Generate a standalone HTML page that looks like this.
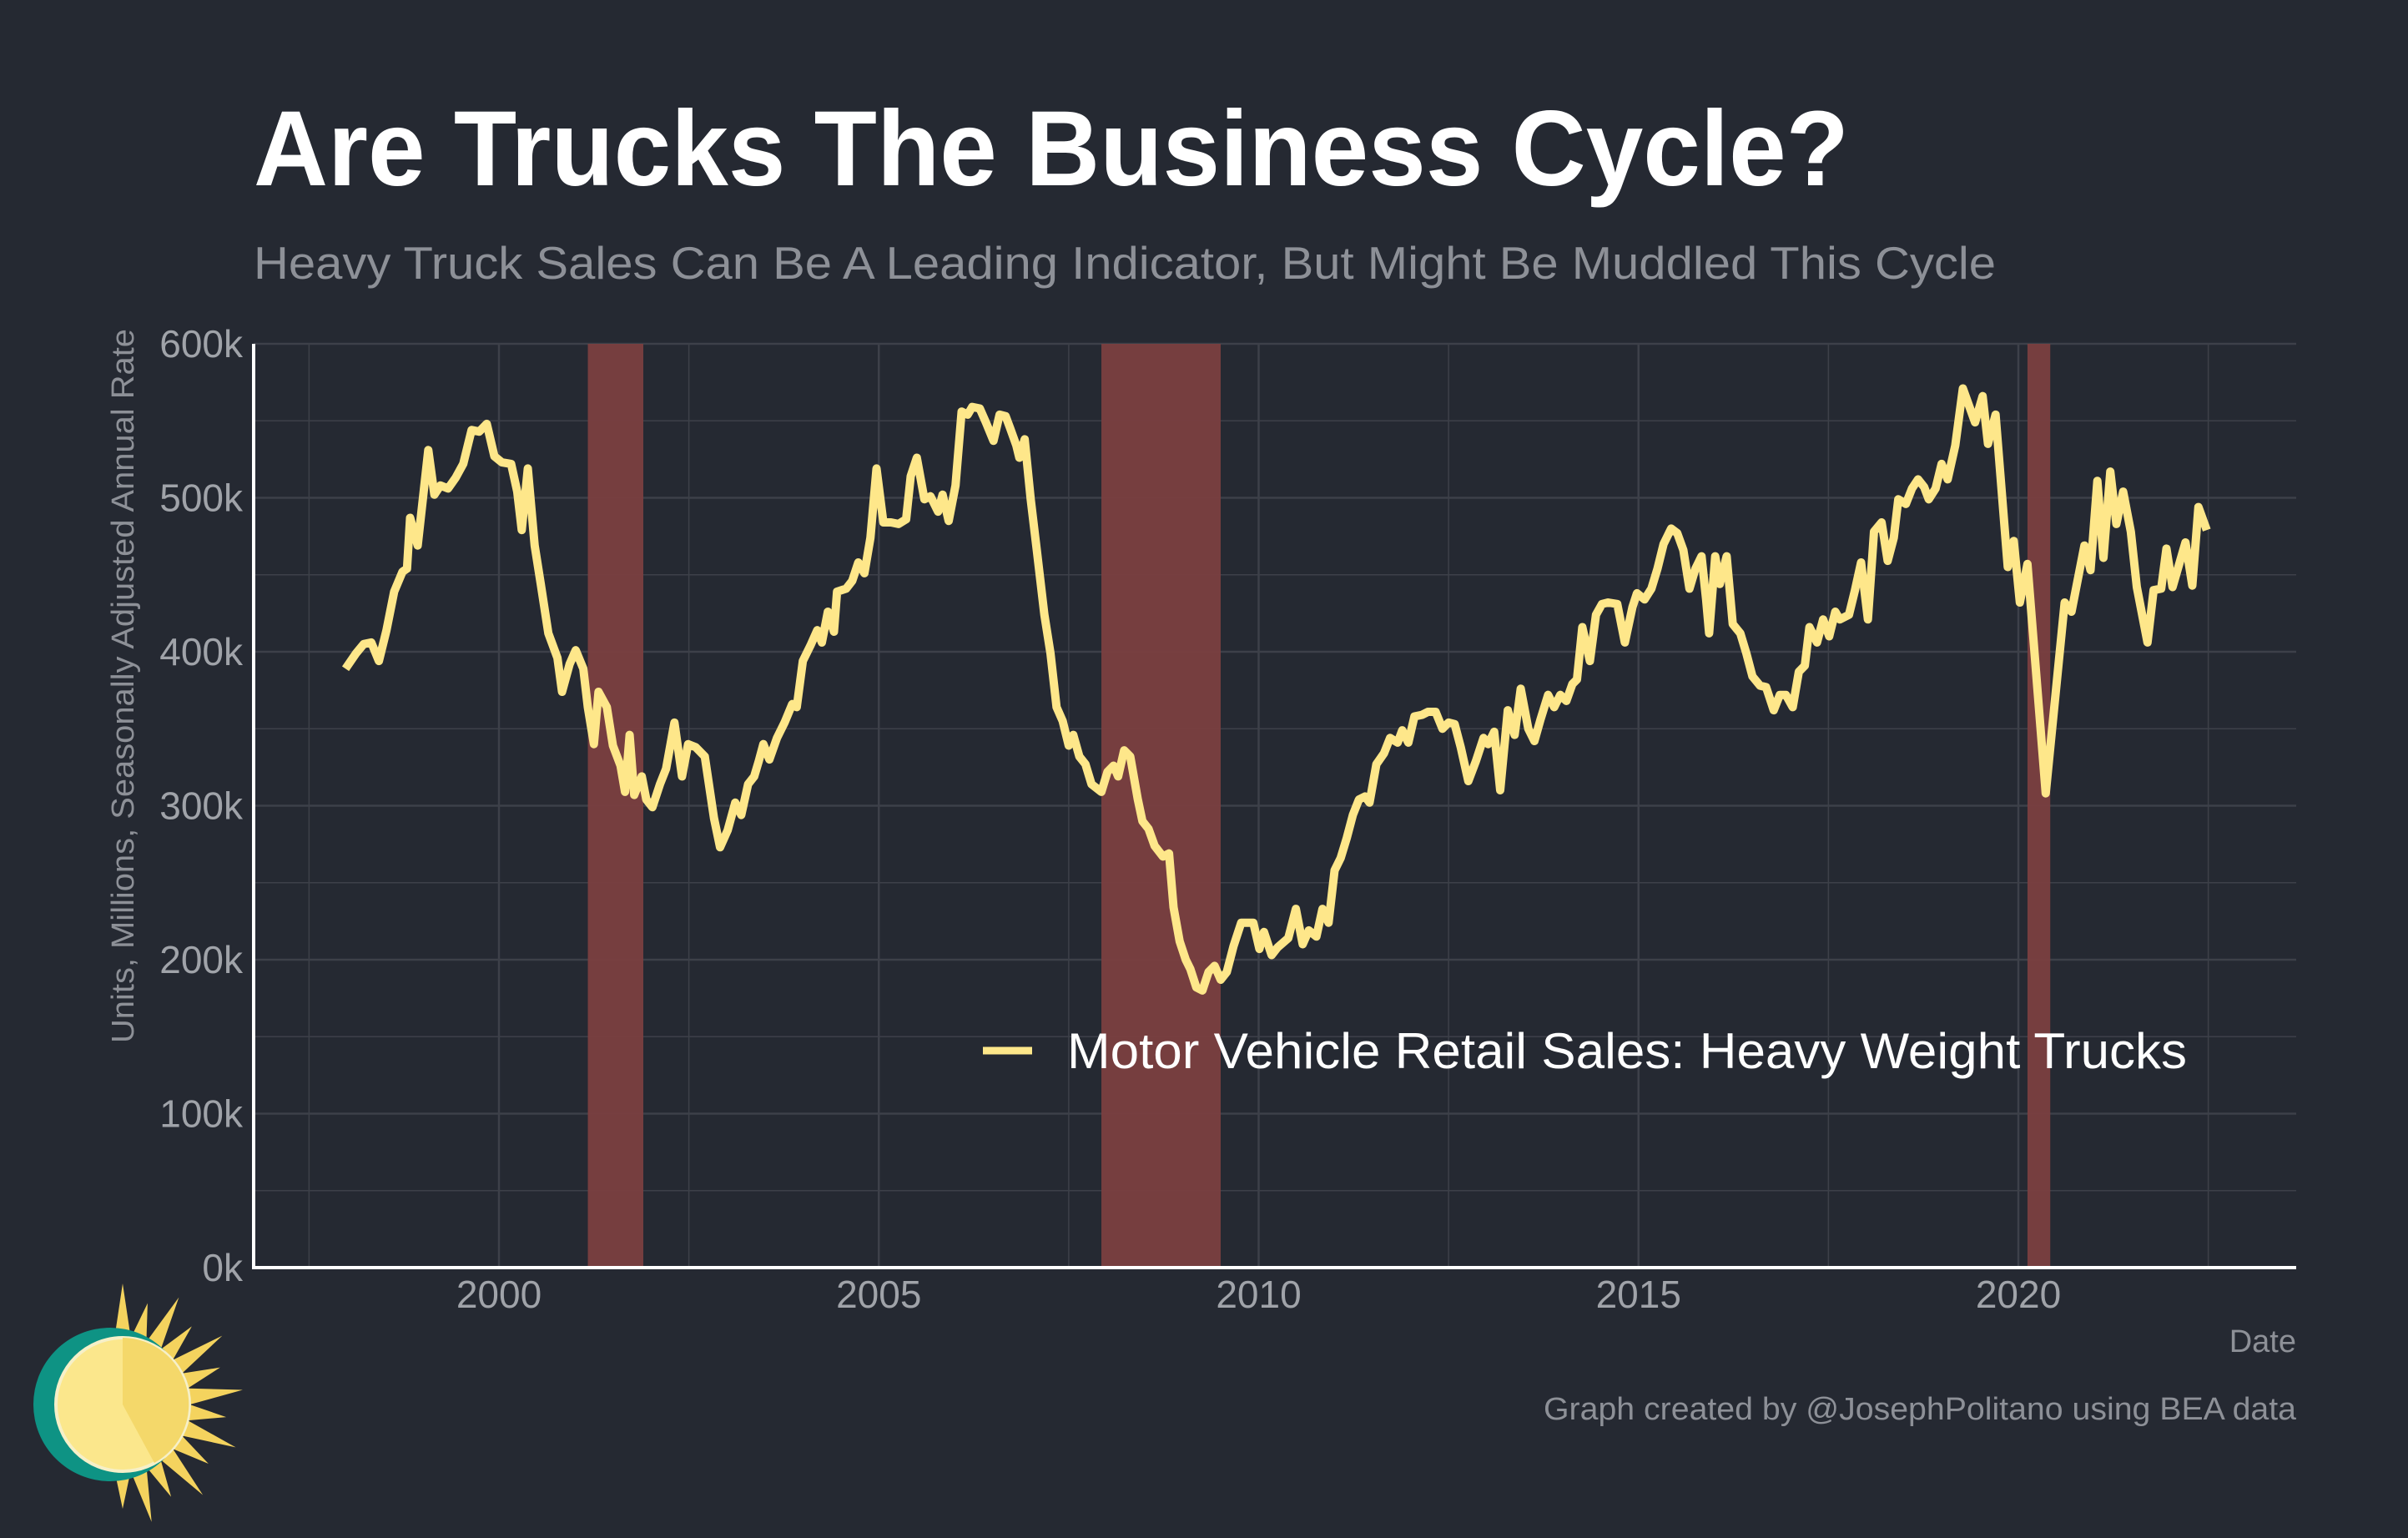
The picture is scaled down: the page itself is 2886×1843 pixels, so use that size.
<!DOCTYPE html>
<html><head><meta charset="utf-8"><style>
html,body{margin:0;padding:0;background:#252932;}
svg{display:block;font-family:"Liberation Sans",Arial,sans-serif;}
</style></head><body>
<svg id="chart" width="2886" height="1843" viewBox="0 0 2886 1843" xmlns="http://www.w3.org/2000/svg">
<rect x="0" y="0" width="2886" height="1843" fill="#252932"/>
<text x="304" y="222" font-size="128" font-weight="bold" fill="#ffffff" textLength="1912" lengthAdjust="spacingAndGlyphs">Are Trucks The Business Cycle?</text>
<text x="304" y="334" font-size="55" fill="#8d9097" textLength="2088" lengthAdjust="spacingAndGlyphs">Heavy Truck Sales Can Be A Leading Indicator, But Might Be Muddled This Cycle</text>
<g id="grid"></g>
<g id="rec"></g>
<g id="axes"></g>
<path id="line" fill="none" stroke="#fee78a" stroke-width="10" stroke-linejoin="round"/>
<g>
<line x1="1178" y1="1259" x2="1237" y2="1259" stroke="#fee78a" stroke-width="9"/>
<text x="1279" y="1280" font-size="60" fill="#ffffff" textLength="1342" lengthAdjust="spacingAndGlyphs">Motor Vehicle Retail Sales: Heavy Weight Trucks</text>
</g>
<text x="0" y="0" transform="translate(160,822) rotate(-90)" text-anchor="middle" font-size="38" fill="#8d9097" textLength="856" lengthAdjust="spacingAndGlyphs">Units, Millions, Seasonally Adjusted Annual Rate</text>
<text x="2752" y="1620" text-anchor="end" font-size="38" fill="#8d9097">Date</text>
<text x="2752" y="1701" text-anchor="end" font-size="38" fill="#8d9097" textLength="902" lengthAdjust="spacingAndGlyphs">Graph created by @JosephPolitano using BEA data</text>
<g transform="translate(-18,0)">
<g id="rays" fill="#f4d35e"></g>
<circle cx="150" cy="1683" r="92" fill="#0e9384"/>
<circle cx="165" cy="1683" r="80" fill="#fbe78c" stroke="#f6f0c8" stroke-width="4"/>
<path d="M165 1683 L165 1603 A80 80 0 0 1 203 1753 Z" fill="#f4d86a"/>
</g>
</svg>
<script>
const years=[1997.98,1998.12,1998.22,1998.32,1998.42,1998.52,1998.62,1998.73,1998.79,1998.83,1998.93,1999.07,1999.15,1999.23,1999.33,1999.43,1999.53,1999.64,1999.74,1999.84,1999.94,2000.04,2000.16,2000.24,2000.30,2000.38,2000.47,2000.55,2000.65,2000.77,2000.83,2000.93,2001.01,2001.11,2001.17,2001.25,2001.31,2001.42,2001.50,2001.60,2001.66,2001.72,2001.78,2001.88,2001.94,2002.02,2002.12,2002.20,2002.31,2002.41,2002.49,2002.59,2002.71,2002.83,2002.91,2003.01,2003.11,2003.19,2003.28,2003.36,2003.42,2003.48,2003.56,2003.66,2003.76,2003.86,2003.92,2004.00,2004.10,2004.19,2004.25,2004.33,2004.41,2004.45,2004.57,2004.65,2004.73,2004.81,2004.89,2004.97,2005.06,2005.16,2005.26,2005.36,2005.42,2005.50,2005.60,2005.68,2005.78,2005.84,2005.92,2006.01,2006.09,2006.17,2006.23,2006.33,2006.41,2006.51,2006.59,2006.67,2006.73,2006.81,2006.85,2006.92,2007.00,2007.08,2007.18,2007.26,2007.34,2007.42,2007.50,2007.56,2007.64,2007.72,2007.80,2007.93,2008.01,2008.09,2008.15,2008.23,2008.31,2008.41,2008.47,2008.55,2008.63,2008.74,2008.82,2008.88,2008.96,2009.04,2009.10,2009.18,2009.26,2009.34,2009.42,2009.50,2009.58,2009.67,2009.77,2009.93,2010.01,2010.07,2010.17,2010.25,2010.39,2010.49,2010.58,2010.66,2010.76,2010.84,2010.92,2011.00,2011.08,2011.16,2011.24,2011.32,2011.40,2011.46,2011.55,2011.65,2011.73,2011.83,2011.89,2011.97,2012.05,2012.15,2012.23,2012.33,2012.42,2012.50,2012.58,2012.66,2012.76,2012.86,2012.96,2013.02,2013.10,2013.18,2013.28,2013.37,2013.45,2013.55,2013.63,2013.71,2013.81,2013.89,2013.97,2014.05,2014.13,2014.19,2014.26,2014.36,2014.44,2014.52,2014.60,2014.72,2014.82,2014.92,2014.98,2015.08,2015.17,2015.25,2015.33,2015.43,2015.51,2015.59,2015.67,2015.75,2015.83,2015.89,2015.93,2016.01,2016.07,2016.16,2016.24,2016.34,2016.42,2016.50,2016.60,2016.68,2016.78,2016.86,2016.94,2017.03,2017.11,2017.19,2017.25,2017.35,2017.43,2017.51,2017.59,2017.65,2017.77,2017.85,2017.93,2018.02,2018.10,2018.20,2018.28,2018.36,2018.42,2018.52,2018.60,2018.68,2018.76,2018.82,2018.91,2018.99,2019.07,2019.17,2019.27,2019.43,2019.53,2019.60,2019.70,2019.86,2019.94,2020.02,2020.12,2020.36,2020.61,2020.70,2020.87,2020.95,2021.04,2021.12,2021.21,2021.29,2021.38,2021.48,2021.56,2021.70,2021.78,2021.88,2021.95,2022.03,2022.20,2022.29,2022.37,2022.48];
const sales=[389,399,405,406,394,414,439,452,454,487,469,531,502,508,506,513,522,544,543,548,527,523,522,504,479,519,469,444,412,396,374,392,401,389,364,340,374,364,339,326,309,346,307,319,304,299,314,324,354,319,340,338,332,292,273,284,302,294,314,319,329,340,330,344,354,366,364,394,404,414,406,426,413,439,441,446,458,451,474,519,484,484,483,486,514,526,499,501,491,502,485,508,556,554,559,558,549,537,554,553,545,534,526,538,499,466,424,399,364,355,339,346,332,327,314,309,322,326,319,336,332,304,290,285,274,267,269,234,212,200,194,182,180,192,196,187,192,209,224,224,207,218,203,208,214,233,210,219,215,233,224,258,266,279,294,304,306,302,327,334,344,341,349,341,358,359,361,361,350,354,353,338,316,329,344,340,348,310,362,346,376,350,342,356,372,364,372,368,379,382,416,394,424,431,432,431,406,429,438,434,441,454,470,480,477,466,441,454,462,434,412,462,444,462,418,412,399,384,378,377,362,372,372,364,387,391,416,406,421,410,426,421,424,440,458,421,478,484,459,474,499,496,506,512,507,499,506,522,512,534,571,549,566,535,554,455,472,432,457,308,432,426,469,453,511,461,517,483,504,478,442,406,440,441,467,442,471,443,494,479];
const yTicks=[0,100,200,300,400,500,600];
const yTickLabels=["0k","100k","200k","300k","400k","500k","600k"];
const xTicks=[2000,2005,2010,2015,2020];
const xTickLabels=["2000","2005","2010","2015","2020"];
const recStarts=[2001.17,2007.93,2020.12];
const recEnds=[2001.90,2009.50,2020.42];

const NS="http://www.w3.org/2000/svg";
const L=304,R=2752,T=412,B=1519;
const xS=y=>598+(y-2000)*91.05;
const yS=v=>B-(v/600)*(B-T);
function mk(tag,attrs,parent){const e=document.createElementNS(NS,tag);for(const k in attrs)e.setAttribute(k,attrs[k]);parent.appendChild(e);return e;}
const grid=document.getElementById('grid');
for(let v=0;v<=600;v+=50){
  const gl=mk('line',{x1:L,x2:R,y1:yS(v),y2:yS(v),stroke:'#3d4049','stroke-width':v%100===0?2.5:1.5},grid);
  
  
}
for(let yr=1997.5;yr<=2022.5;yr+=2.5){
  const gl=mk('line',{x1:xS(yr),x2:xS(yr),y1:T,y2:B,stroke:'#3d4049','stroke-width':yr%5===0?2.5:1.5},grid);
  
  
}
const rec=document.getElementById('rec');
recStarts.forEach((s,i)=>{
  const r=mk('rect',{x:xS(s),y:T,width:xS(recEnds[i])-xS(s),height:B-T,fill:'#7a3f40',opacity:0.95},rec);
  
  
});
const axes=document.getElementById('axes');
const ya=mk('line',{x1:L,x2:L,y1:T,y2:B+2,stroke:'#ffffff','stroke-width':4},axes);


const xa=mk('line',{x1:L-2,x2:R,y1:B,y2:B,stroke:'#ffffff','stroke-width':4},axes);


yTicks.forEach((v,i)=>{
  const t=mk('text',{x:291,y:yS(v)+16,'text-anchor':'end','font-size':46,fill:'#a0a3a9'},axes);
  t.textContent=yTickLabels[i];
  
  
});
xTicks.forEach((v,i)=>{
  const t=mk('text',{x:xS(v),y:1567,'text-anchor':'middle','font-size':46,fill:'#a0a3a9'},axes);
  t.textContent=xTickLabels[i];
  
  
});
let d='';
years.forEach((y,i)=>{d+=(i?'L':'M')+xS(y).toFixed(1)+' '+yS(sales[i]).toFixed(1);});
document.getElementById('line').setAttribute('d',d);
const rays=document.getElementById('rays');
for(let i=0;i<14;i++){
  const a=-Math.PI/2+i*(Math.PI/13);
  const cx=165,cy=1683;
  const r1=78,r2=i%2?125:145,w=0.13;
  const p=[[cx+r1*Math.cos(a-w),cy+r1*Math.sin(a-w)],[cx+r2*Math.cos(a),cy+r2*Math.sin(a)],[cx+r1*Math.cos(a+w),cy+r1*Math.sin(a+w)]];
  const pg=mk('polygon',{points:p.map(q=>q.join(',')).join(' ')},rays);
  
  
}
</script>
</body></html>
